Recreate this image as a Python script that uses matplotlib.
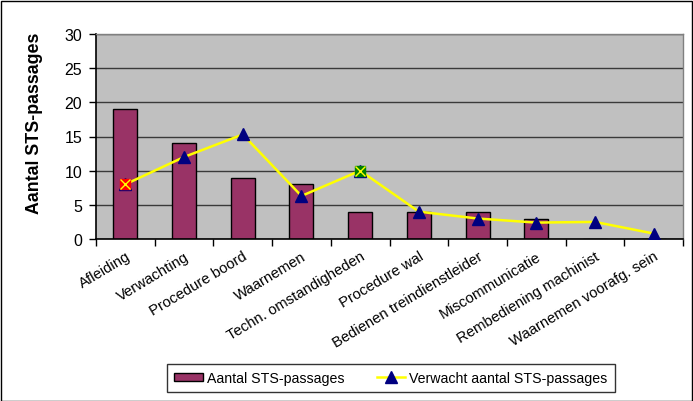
import matplotlib
matplotlib.use("Agg")
import matplotlib.pyplot as plt
from matplotlib.patches import Rectangle
import numpy as np

plt.rcParams['font.family'] = ['Liberation Sans', 'DejaVu Sans']

categories = ["Afleiding", "Verwachting", "Procedure boord", "Waarnemen",
              "Techn. omstandigheden", "Procedure wal", "Bedienen treindienstleider",
              "Miscommunicatie", "Rembediening machinist", "Waarnemen voorafg. sein"]
aantal = [19, 14, 9, 8, 4, 4, 4, 3, 0, 0]
verwacht = [8, 12, 15.3, 6.3, 10, 4, 3, 2.4, 2.5, 0.8]
y_ticks = [0, 5, 10, 15, 20, 25, 30]

bar_label = "Aantal STS-passages"
line_label = "Verwacht aantal STS-passages"

fig = plt.figure(figsize=(6.93, 4.02), dpi=100)
ax = fig.add_axes([96 / 693, 1 - 240 / 402, (683 - 96) / 693, (240 - 35) / 402])
ax.set_facecolor('#C0C0C0')

x = np.arange(len(categories))

bars = ax.bar(x, aantal, width=0.41, color='#993366', edgecolor='black', linewidth=1,
              zorder=2, label=bar_label)
line, = ax.plot(x, verwacht, color='#FFFF00', linewidth=1.8, marker='^', markersize=8,
                markerfacecolor='#000080', markeredgecolor='#000080', zorder=3,
                label=line_label)

# individually formatted points: coloured square with a yellow cross
highlight = {0: '#FF0000', 4: '#008000'}
for i, col in highlight.items():
    ax.plot(x[i], verwacht[i], marker='s', markersize=7.5, markerfacecolor=col,
            markeredgecolor=col, zorder=4)
    ax.plot(x[i], verwacht[i], marker='x', markersize=6.5, markeredgecolor='#FFFF00',
            markeredgewidth=1, zorder=5)

ax.set_xlim(-0.5, len(categories) - 0.5)
ax.set_ylim(0, 30)
ax.set_yticks(y_ticks)
ax.set_yticklabels([str(v) for v in y_ticks], fontsize=11.5)
ax.yaxis.grid(True, color='#3a3a3a', linewidth=1)
ax.set_axisbelow(True)

# tick marks on category boundaries, labels at category centres
ax.set_xticks(np.arange(-0.5, len(categories), 1.0))
ax.set_xticklabels([])
ax.set_xticks(x, minor=True)
ax.set_xticklabels(categories, minor=True, rotation=31, ha='right', va='top',
                   rotation_mode='anchor', fontsize=10.7)
ax.tick_params(axis='x', which='major', length=5, width=1, direction='out')
ax.tick_params(axis='x', which='minor', length=0, pad=7)
ax.tick_params(axis='y', length=5, width=1, direction='out', pad=5)

for side in ('left', 'bottom'):
    ax.spines[side].set_color('black')
    ax.spines[side].set_linewidth(1.2)
for side in ('top', 'right'):
    ax.spines[side].set_color('#808080')
    ax.spines[side].set_linewidth(1)

ax.set_ylabel("Aantal STS-passages", fontsize=12.8, fontweight='bold')
ax.yaxis.set_label_coords(-0.09, 0.568)

leg = fig.legend([bars, line], [bar_label, line_label], loc='center',
                 bbox_to_anchor=(391 / 693, 1 - 379 / 402), ncol=2,
                 fontsize=10.2, frameon=True, fancybox=False, edgecolor='black',
                 handlelength=2.0, handleheight=0.5, handletextpad=0.3,
                 columnspacing=2.3, borderpad=0.5)
leg.get_frame().set_linewidth(1)

fig.patches.append(Rectangle((0.5 / 693, 0.5 / 402), 691 / 693, 400 / 402,
                             transform=fig.transFigure, fill=False,
                             edgecolor='black', linewidth=1))

fig.savefig('out.png', dpi=100, facecolor='white')
